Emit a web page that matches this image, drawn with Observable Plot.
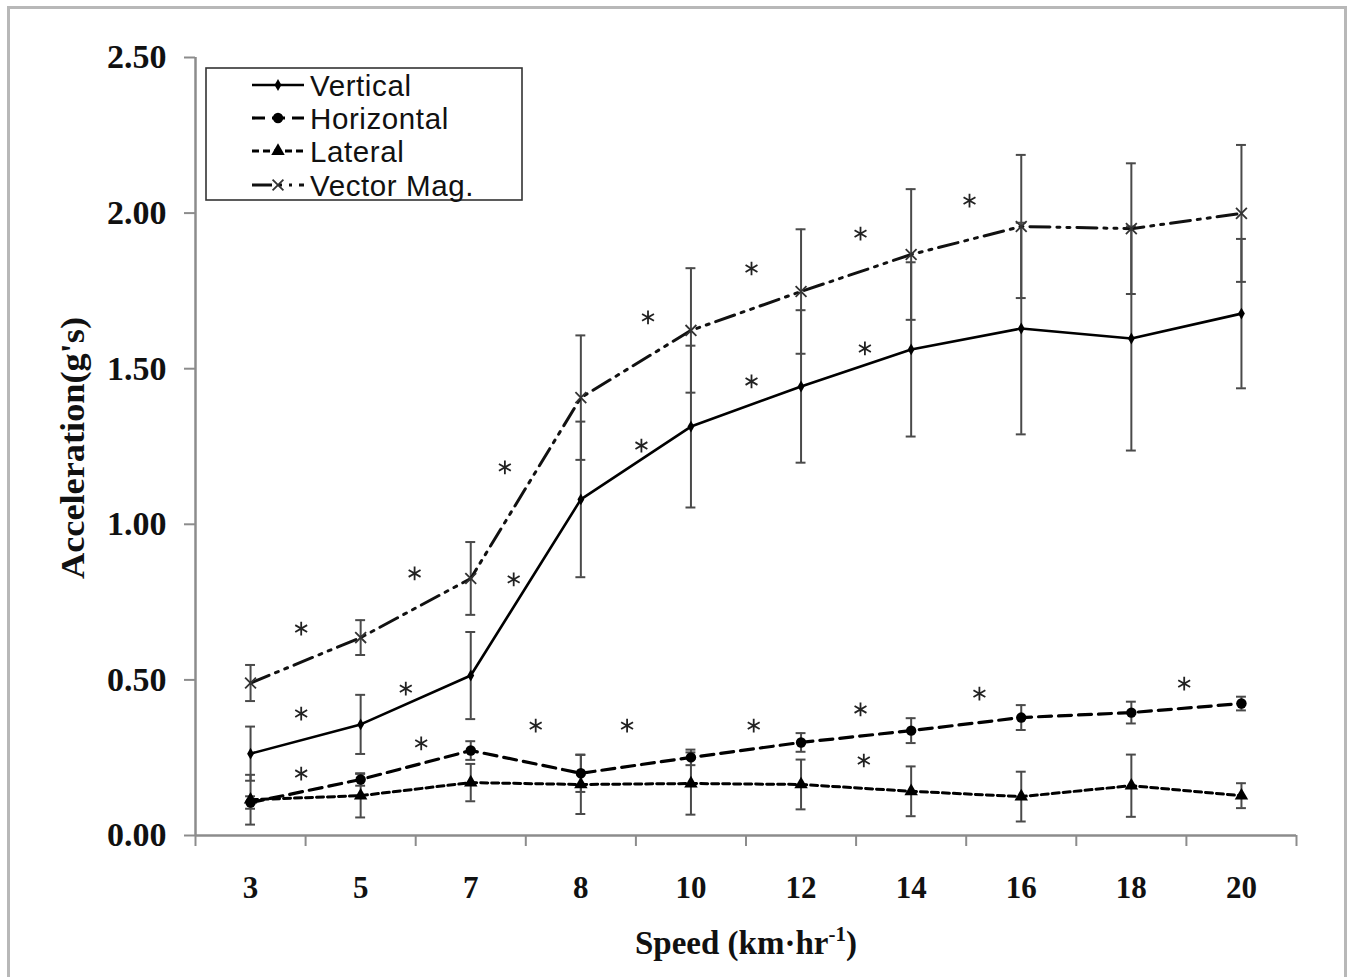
<!DOCTYPE html>
<html><head><meta charset="utf-8">
<script src="https://cdn.jsdelivr.net/npm/d3@7"></script>
<script src="https://cdn.jsdelivr.net/npm/@observablehq/plot@0.6"></script>
<style>
html,body{margin:0;padding:0;background:#fff;overflow:hidden}
#wrap{position:relative;width:1352px;height:977px}
#frame{position:absolute;left:7px;top:6px;width:1340px;height:1000px;border:3px solid #b8b8b8;box-sizing:border-box;pointer-events:none}
</style></head><body><div id="wrap"><div id="chart"></div><div id="frame"></div></div>
<script>
// ---- data ----
const speeds = ["3", "5", "7", "8", "10", "12", "14", "16", "18", "20"];
const seriesNames = ["Vertical", "Horizontal", "Lateral", "Vector Mag."];
const vertical     = [0.263, 0.357, 0.514, 1.080, 1.314, 1.443, 1.562, 1.629, 1.597, 1.677];
const verticalSD   = [0.087, 0.095, 0.140, 0.250, 0.260, 0.245, 0.280, 0.340, 0.360, 0.240];
const horizontal   = [0.106, 0.180, 0.273, 0.200, 0.251, 0.299, 0.337, 0.379, 0.395, 0.424];
const horizontalSD = [0.020, 0.020, 0.030, 0.060, 0.025, 0.030, 0.040, 0.040, 0.035, 0.022];
const lateral      = [0.115, 0.128, 0.170, 0.164, 0.167, 0.164, 0.142, 0.125, 0.160, 0.128];
const lateralSD    = [0.080, 0.070, 0.060, 0.095, 0.100, 0.080, 0.080, 0.080, 0.100, 0.040];
const vectorMag    = [0.490, 0.636, 0.826, 1.407, 1.623, 1.748, 1.867, 1.957, 1.950, 1.999];
const vectorMagSD  = [0.058, 0.056, 0.117, 0.200, 0.200, 0.200, 0.210, 0.230, 0.210, 0.220];
// significance asterisks: position along the category index axis, and value
const starIndex = [0.46, 0.46, 0.46, 1.49, 1.41, 1.55, 2.31, 2.39, 2.59, 3.42, 3.55, 3.61, 4.55, 4.55, 4.57, 5.54, 5.58, 5.54, 5.57, 6.53, 6.62, 8.48];
const starValue = [0.665, 0.392, 0.199, 0.842, 0.472, 0.296, 1.183, 0.823, 0.353, 0.353, 1.253, 1.665, 1.822, 1.459, 0.353, 1.934, 1.565, 0.405, 0.241, 2.040, 0.456, 0.488];
const yTicks = [0, 0.5, 1.0, 1.5, 2.0, 2.5];

// ---- styles ----
const means = [vertical, horizontal, lateral, vectorMag];
const sds = [verticalSD, horizontalSD, lateralSD, vectorMagSD];
const styles = [
  {dash: null, width: 2.6, symbol: "diamond", d3sym: d3.symbolDiamond, r: 3.6, fill: "#000", stroke: "none", color: "#000"},
  {dash: "13,7", width: 3.2, symbol: "circle", d3sym: d3.symbolCircle, r: 5.2, fill: "#000", stroke: "none", color: "#000"},
  {dash: "7,4", width: 3, symbol: "triangle", d3sym: d3.symbolTriangle, r: 5, fill: "#000", stroke: "none", color: "#000"},
  {dash: "20,7,3,7,3,7", width: 3, symbol: "times", d3sym: d3.symbolTimes, r: 5, fill: "none", stroke: "#333", color: "#111"}
];

const rows = [];
seriesNames.forEach((name, s) => means[s].forEach((v, i) => rows.push({series: name, s, i, v, sd: sds[s][i]})));
const stars = starIndex.map((x, k) => ({x, y: starValue[k]}));
const idx = speeds.map((_, i) => i);
const bounds = speeds.map((_, i) => i - 0.5).concat([speeds.length - 0.5]);

const marks = [
  Plot.axisY({ticks: yTicks, tickSize: 11, tickFormat: () => "", stroke: "#8c8c8c", strokeWidth: 2}),
  Plot.axisY({ticks: yTicks, tickSize: 0, tickPadding: 29, tickFormat: d => d.toFixed(2), fontSize: 34, fontWeight: "bold", fill: "#111", label: null}),
  Plot.axisX({ticks: bounds, tickSize: 11, tickFormat: () => "", stroke: "#8c8c8c", strokeWidth: 2, label: null}),
  Plot.axisX({ticks: idx, tickSize: 0, tickPadding: 40, tickFormat: i => speeds[i], fontSize: 31, fontWeight: "bold", fill: "#111", label: null}),
  Plot.ruleY([0], {stroke: "#8c8c8c", strokeWidth: 2.5}),
  Plot.ruleX([-0.5], {stroke: "#8c8c8c", strokeWidth: 2.5}),
  // error bars
  Plot.ruleX(rows, {x: "i", y1: d => d.v - d.sd, y2: d => d.v + d.sd, stroke: "#4a4a4a", strokeWidth: 2}),
  Plot.ruleY(rows, {y: d => d.v + d.sd, x1: d => d.i - 0.045, x2: d => d.i + 0.045, stroke: "#4a4a4a", strokeWidth: 2}),
  Plot.ruleY(rows, {y: d => d.v - d.sd, x1: d => d.i - 0.045, x2: d => d.i + 0.045, stroke: "#4a4a4a", strokeWidth: 2})
];
seriesNames.forEach((name, s) => {
  const st = styles[s];
  const data = rows.filter(d => d.s === s);
  marks.push(Plot.line(data, {x: "i", y: "v", stroke: st.color, strokeWidth: st.width, strokeDasharray: st.dash || undefined}));
});
seriesNames.forEach((name, s) => {
  const st = styles[s];
  const data = rows.filter(d => d.s === s);
  marks.push(Plot.dot(data, {x: "i", y: "v", symbol: st.symbol, r: st.r, fill: st.fill, stroke: st.stroke, strokeWidth: 1.8}));
});
marks.push(Plot.dot(stars, {x: "x", y: "y", symbol: "asterisk", r: 6.5, stroke: "#222", strokeWidth: 1.8}));

const plot = Plot.plot({
  width: 1352, height: 977,
  marginLeft: 195, marginRight: 56, marginTop: 57, marginBottom: 142,
  style: {fontFamily: "'Liberation Serif', 'Times New Roman', serif", background: "#fff", overflow: "visible"},
  x: {domain: [-0.5, speeds.length - 0.5], axis: null},
  y: {domain: [0, 2.5], axis: null},
  marks
});
document.getElementById("chart").appendChild(plot);

const svg = d3.select(plot);
// x axis title with superscript
const xt = svg.append("text").attr("x", 746).attr("y", 954).attr("text-anchor", "middle")
  .attr("font-family", "'Liberation Serif', serif").attr("font-weight", "bold").attr("font-size", 33).attr("fill", "#111");
xt.append("tspan").text("Speed (km·hr");
xt.append("tspan").attr("dy", -13).attr("font-size", 21).text("-1");
xt.append("tspan").attr("dy", 13).text(")");
// y axis title
svg.append("text").attr("transform", "translate(72,448) rotate(-90)").attr("text-anchor", "middle").attr("dy", "0.35em")
  .attr("font-family", "'Liberation Serif', serif").attr("font-weight", "bold").attr("font-size", 33).attr("fill", "#111")
  .attr("textLength", 262).attr("lengthAdjust", "spacingAndGlyphs")
  .text("Acceleration(g's)");

// legend
const lg = svg.append("g");
lg.append("rect").attr("x", 206).attr("y", 68).attr("width", 316).attr("height", 132)
  .attr("fill", "#fff").attr("stroke", "#333").attr("stroke-width", 1.6);
const rowY = [85, 118, 151, 185];
seriesNames.forEach((name, s) => {
  const st = styles[s];
  const y = rowY[s];
  lg.append("line").attr("x1", 252).attr("x2", 304).attr("y1", y).attr("y2", y)
    .attr("stroke", st.color).attr("stroke-width", st.width).attr("stroke-dasharray", st.dash ? st.dash : null);
  lg.append("path").attr("transform", `translate(278,${y})`)
    .attr("d", d3.symbol(st.d3sym, Math.PI * st.r * st.r)())
    .attr("fill", st.fill).attr("stroke", st.stroke === "none" ? null : st.stroke).attr("stroke-width", 1.8);
  lg.append("text").attr("x", 310).attr("y", y).attr("dy", "0.36em").attr("text-anchor", "start")
    .attr("font-family", "'Liberation Sans', Arial, sans-serif").attr("font-size", 29.5).attr("letter-spacing", 0.6).attr("fill", "#111")
    .text(name);
});
</script></body></html>
